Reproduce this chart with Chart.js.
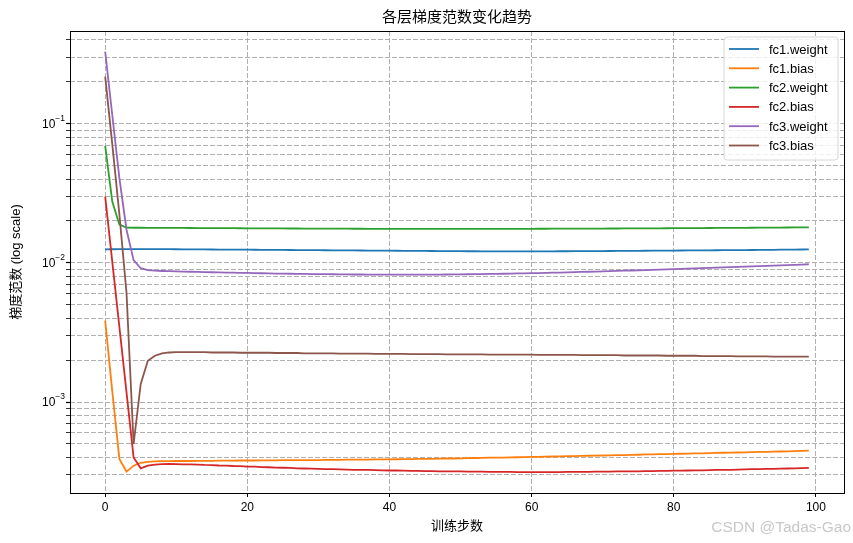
<!DOCTYPE html>
<html>
<head>
<meta charset="utf-8">
<script src="https://cdn.jsdelivr.net/npm/chart.js@4.4.0/dist/chart.umd.min.js"></script>
<style>
  html, body { margin: 0; padding: 0; background: #fff; }
  #wrap { width: 853px; height: 543px; }
</style>
</head>
<body>
<div id="wrap"><canvas id="c" width="853" height="543"></canvas></div>
<script>
const FONT = "'Liberation Sans', Arial, 'Noto Sans CJK SC', sans-serif";

const titleText = '各层梯度范数变化趋势';
const xTitle = '训练步数';
const yTitle = '梯度范数 (log scale)';
const watermark = 'CSDN @Tadas-Gao';

const steps = Array.from({length: 100}, (_, i) => i);
const xTicks = [0, 20, 40, 60, 80, 100];
const yMajor = [1e-3, 1e-2, 1e-1];
const yMajorExp = ['\u22123', '\u22122', '\u22121'];
const yMinorMult = [2, 3, 4, 5, 6, 7, 8, 9];
const yRange = [2.22e-4, 0.4634];
const xRange = [-4.95, 103.95];

const seriesNames = ['fc1.weight', 'fc1.bias', 'fc2.weight', 'fc2.bias', 'fc3.weight', 'fc3.bias'];
const seriesColors = ['#1f77b4', '#ff7f0e', '#2ca02c', '#d62728', '#9467bd', '#8c564b'];

const fc1Weight = [
  0.0125,0.01252,0.01254,0.01255,0.01256,0.01256,0.01256,0.01255,0.01254,0.01253,
  0.01252,0.01251,0.0125,0.01249,0.01248,0.01247,0.01246,0.01245,0.01244,0.01244,
  0.01243,0.01242,0.01241,0.0124,0.01239,0.01238,0.01237,0.01236,0.01235,0.01234,
  0.01233,0.01232,0.01231,0.0123,0.01229,0.01228,0.01227,0.01226,0.01225,0.01224,
  0.01223,0.01222,0.01221,0.0122,0.01219,0.01218,0.01217,0.01216,0.01215,0.01214,
  0.01213,0.01212,0.01212,0.01211,0.01211,0.0121,0.0121,0.0121,0.0121,0.0121,
  0.0121,0.0121,0.01211,0.01211,0.01212,0.01212,0.01213,0.01213,0.01214,0.01215,
  0.01216,0.01217,0.01218,0.01219,0.0122,0.01221,0.01222,0.01223,0.01224,0.01225,
  0.01226,0.01227,0.01228,0.01229,0.0123,0.01231,0.01232,0.01233,0.01234,0.01235,
  0.01236,0.01237,0.01239,0.0124,0.01241,0.01243,0.01244,0.01246,0.01247,0.01249
];
const fc1Bias = [
  0.00384,0.00119,0.00039,0.000316,0.000349,0.000366,0.000372,0.000375,0.000376,0.000376,
  0.000377,0.000377,0.000377,0.000378,0.000378,0.000378,0.000379,0.000379,0.000379,0.00038,
  0.00038,0.00038,0.000381,0.000381,0.000381,0.000382,0.000382,0.000382,0.000383,0.000383,
  0.000383,0.000384,0.000384,0.000384,0.000385,0.000385,0.000386,0.000386,0.000387,0.000387,
  0.000387,0.000388,0.000389,0.000389,0.00039,0.000391,0.000391,0.000392,0.000393,0.000393,
  0.000394,0.000395,0.000396,0.000397,0.000398,0.000398,0.000399,0.0004,0.000401,0.000402,
  0.000403,0.000404,0.000405,0.000406,0.000407,0.000408,0.000409,0.00041,0.000411,0.000412,
  0.000413,0.000414,0.000415,0.000416,0.000417,0.000418,0.00042,0.000421,0.000422,0.000423,
  0.000424,0.000425,0.000426,0.000427,0.000428,0.00043,0.000431,0.000432,0.000433,0.000434,
  0.000435,0.000436,0.000438,0.000439,0.00044,0.000441,0.000442,0.000444,0.000445,0.000447
];
const fc2Weight = [
  0.0692,0.0276,0.0188,0.0179,0.01788,0.01787,0.01786,0.01785,0.01784,0.01783,
  0.01782,0.01781,0.0178,0.01779,0.01778,0.01777,0.01776,0.01775,0.01774,0.01773,
  0.01772,0.01771,0.0177,0.01769,0.01768,0.01767,0.01766,0.01765,0.01764,0.01763,
  0.01762,0.01761,0.0176,0.0176,0.01759,0.01758,0.01758,0.01757,0.01757,0.01756,
  0.01756,0.01755,0.01755,0.01755,0.01754,0.01754,0.01754,0.01754,0.01754,0.01754,
  0.01754,0.01754,0.01754,0.01754,0.01755,0.01755,0.01755,0.01756,0.01756,0.01757,
  0.01757,0.01758,0.01758,0.01759,0.0176,0.0176,0.01761,0.01762,0.01763,0.01764,
  0.01764,0.01765,0.01766,0.01767,0.01768,0.01769,0.0177,0.01771,0.01772,0.01773,
  0.01774,0.01775,0.01776,0.01777,0.01779,0.0178,0.01781,0.01782,0.01784,0.01785,
  0.01786,0.01788,0.01789,0.0179,0.01792,0.01793,0.01795,0.01796,0.01798,0.018
];
const fc2Bias = [
  0.0299,0.01017,0.00346,0.001175,0.0004,0.000334,0.000349,0.000355,0.000358,0.000359,
  0.000358,0.000357,0.000356,0.000355,0.000353,0.000352,0.00035,0.000349,0.000347,0.000346,
  0.000344,0.000343,0.000341,0.00034,0.000338,0.000337,0.000336,0.000334,0.000333,0.000332,
  0.000331,0.00033,0.000329,0.000328,0.000327,0.000326,0.000325,0.000325,0.000324,0.000323,
  0.000322,0.000322,0.000321,0.00032,0.00032,0.000319,0.000319,0.000318,0.000318,0.000317,
  0.000317,0.000316,0.000316,0.000316,0.000315,0.000315,0.000315,0.000315,0.000314,0.000314,
  0.000314,0.000314,0.000314,0.000314,0.000314,0.000315,0.000315,0.000315,0.000315,0.000316,
  0.000316,0.000316,0.000317,0.000317,0.000318,0.000318,0.000319,0.000319,0.00032,0.00032,
  0.000321,0.000321,0.000322,0.000323,0.000323,0.000324,0.000325,0.000326,0.000326,0.000327,
  0.000328,0.000329,0.00033,0.000331,0.000331,0.000332,0.000333,0.000334,0.000335,0.000336
];
const fc3Weight = [
  0.329,0.115,0.0407,0.0173,0.01045,0.00915,0.00887,0.00878,0.00874,0.00871,
  0.00868,0.00866,0.00863,0.00861,0.00858,0.00856,0.00854,0.00852,0.0085,0.00848,
  0.00846,0.00844,0.00842,0.0084,0.00838,0.00837,0.00835,0.00834,0.00832,0.00831,
  0.0083,0.00829,0.00828,0.00827,0.00826,0.00825,0.00825,0.00824,0.00824,0.00823,
  0.00823,0.00823,0.00823,0.00823,0.00823,0.00823,0.00824,0.00824,0.00825,0.00826,
  0.00827,0.00828,0.00829,0.0083,0.00832,0.00833,0.00835,0.00837,0.00839,0.00841,
  0.00843,0.00845,0.00847,0.0085,0.00852,0.00855,0.00857,0.0086,0.00863,0.00866,
  0.00869,0.00872,0.00875,0.00878,0.00881,0.00884,0.00887,0.00891,0.00894,0.00898,
  0.00901,0.00905,0.00908,0.00912,0.00916,0.0092,0.00924,0.00927,0.00931,0.00935,
  0.00939,0.00943,0.00947,0.00951,0.00956,0.0096,0.00964,0.00968,0.00972,0.00977
];
const fc3Bias = [
  0.2175,0.0711,0.0223,0.0061,0.0005,0.00135,0.00198,0.00215,0.00224,0.00227,
  0.00228,0.00228,0.00228,0.00228,0.00228,0.00227,0.00227,0.00227,0.00227,0.00226,
  0.00226,0.00226,0.00226,0.00226,0.00225,0.00225,0.00225,0.00225,0.00224,0.00224,
  0.00224,0.00224,0.00224,0.00223,0.00223,0.00223,0.00223,0.00223,0.00222,0.00222,
  0.00222,0.00222,0.00222,0.00221,0.00221,0.00221,0.00221,0.00221,0.0022,0.0022,
  0.0022,0.0022,0.0022,0.0022,0.00219,0.00219,0.00219,0.00219,0.00219,0.00219,
  0.00219,0.00218,0.00218,0.00218,0.00218,0.00218,0.00218,0.00217,0.00217,0.00217,
  0.00217,0.00217,0.00217,0.00216,0.00216,0.00216,0.00216,0.00216,0.00216,0.00215,
  0.00215,0.00215,0.00215,0.00215,0.00214,0.00214,0.00214,0.00214,0.00214,0.00213,
  0.00213,0.00213,0.00213,0.00213,0.00212,0.00212,0.00212,0.00212,0.00212,0.00212
];
const seriesValues = [fc1Weight, fc1Bias, fc2Weight, fc2Bias, fc3Weight, fc3Bias];

// all y ticks (major + minor) inside the visible range
const yTicks = [];
for (let e = -4; e <= 0; e++) {
  [1].concat(yMinorMult).forEach(m => {
    const v = m * Math.pow(10, e);
    if (v >= yRange[0] && v <= yRange[1]) yTicks.push(v);
  });
}
const isMajor = v => yMajor.some(m => Math.abs(v / m - 1) < 1e-6);

const datasets = seriesNames.map((name, i) => ({
  label: name,
  data: steps.map((s, j) => ({x: s, y: seriesValues[i][j]})),
  borderColor: seriesColors[i],
  backgroundColor: seriesColors[i],
  borderWidth: 1.8,
  pointRadius: 0,
  tension: 0,
  order: seriesNames.length - i
}));

const decorPlugin = {
  id: 'decor',
  afterDraw(chart) {
    const ctx = chart.ctx;
    const a = chart.chartArea;
    const ys = chart.scales.y;
    ctx.save();

    // frame
    ctx.strokeStyle = '#000';
    ctx.lineWidth = 1;
    ctx.strokeRect(Math.round(a.left) + 0.5, Math.round(a.top) + 0.5,
      Math.round(a.right - a.left), Math.round(a.bottom - a.top));

    // y tick labels 10^n
    ctx.fillStyle = '#000';
    ctx.textBaseline = 'middle';
    yMajor.forEach((v, i) => {
      const py = ys.getPixelForValue(v);
      ctx.font = '8.5px ' + FONT;
      const ew = ctx.measureText(yMajorExp[i]).width;
      ctx.textAlign = 'right';
      ctx.fillText(yMajorExp[i], 65, py - 5);
      ctx.font = '12px ' + FONT;
      ctx.fillText('10', 65 - ew, py + 1);
    });

    // title and axis titles
    ctx.textAlign = 'center';
    ctx.font = '15px ' + FONT;
    ctx.fillText(titleText, (a.left + a.right) / 2, 18);
    ctx.font = '13px ' + FONT;
    ctx.fillText(xTitle, (a.left + a.right) / 2, 526);
    ctx.save();
    ctx.translate(16, (a.top + a.bottom) / 2);
    ctx.rotate(-Math.PI / 2);
    ctx.fillText(yTitle, 0, 0);
    ctx.restore();

    // legend
    const lx = 724, ly = 37, lw = 114, lh = 123, r = 3;
    ctx.beginPath();
    ctx.moveTo(lx + r, ly);
    ctx.arcTo(lx + lw, ly, lx + lw, ly + lh, r);
    ctx.arcTo(lx + lw, ly + lh, lx, ly + lh, r);
    ctx.arcTo(lx, ly + lh, lx, ly, r);
    ctx.arcTo(lx, ly, lx + lw, ly, r);
    ctx.closePath();
    ctx.fillStyle = 'rgba(255,255,255,0.8)';
    ctx.fill();
    ctx.strokeStyle = '#d6d6d6';
    ctx.lineWidth = 1;
    ctx.stroke();
    ctx.textAlign = 'left';
    ctx.font = '13px ' + FONT;
    chart.data.datasets.forEach((ds, i) => {
      const yy = 49 + i * 19.3;
      ctx.strokeStyle = ds.borderColor;
      ctx.lineWidth = 1.8;
      ctx.beginPath();
      ctx.moveTo(729, yy);
      ctx.lineTo(759, yy);
      ctx.stroke();
      ctx.fillStyle = '#000';
      ctx.fillText(ds.label, 769, yy + 1);
    });

    // watermark
    ctx.textAlign = 'right';
    ctx.fillStyle = '#c8c8c8';
    ctx.font = '15.5px ' + FONT;
    ctx.fillText(watermark, 851, 528);
    ctx.restore();
  }
};

new Chart(document.getElementById('c'), {
  type: 'line',
  data: {datasets},
  options: {
    responsive: false,
    animation: false,
    layout: {padding: {top: 31, right: 9, left: 0, bottom: 0}},
    plugins: {legend: {display: false}, tooltip: {enabled: false}, title: {display: false}},
    scales: {
      x: {
        type: 'linear',
        min: xRange[0],
        max: xRange[1],
        afterBuildTicks: s => { s.ticks = xTicks.map(v => ({value: v})); },
        afterFit: s => { s.height = 50; },
        ticks: {color: '#000', font: {size: 12, family: FONT}, padding: 3, maxRotation: 0},
        grid: {color: '#b0b0b0', lineWidth: 1, tickLength: 4, tickColor: '#000'},
        border: {display: false, dash: [5, 2]}
      },
      y: {
        type: 'logarithmic',
        min: yRange[0],
        max: yRange[1],
        afterBuildTicks: s => { s.ticks = yTicks.map(v => ({value: v})); },
        afterFit: s => { s.width = 70; },
        ticks: {display: false},
        grid: {
          color: '#b0b0b0', lineWidth: 1, tickColor: '#000', tickLength: 4,
          tickWidth: c => (c.tick && isMajor(c.tick.value)) ? 1.2 : 0.8
        },
        border: {display: false, dash: [5, 2]}
      }
    }
  },
  plugins: [decorPlugin]
});
</script>
</body>
</html>
